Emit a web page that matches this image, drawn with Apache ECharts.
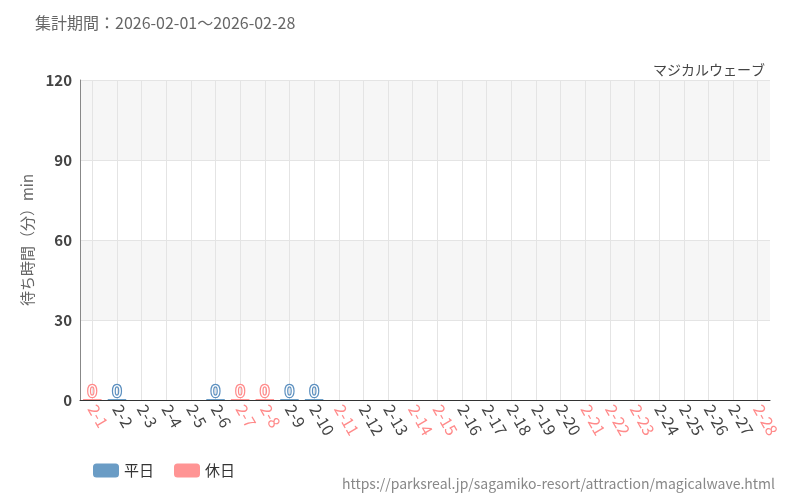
<!DOCTYPE html><html><head><meta charset="utf-8"><script src="https://cdn.jsdelivr.net/npm/echarts@6/dist/echarts.min.js"></script></head><body style="margin:0"><div id="c" style="width:800px;height:500px"></div><script>
const categories=['2-1','2-2','2-3','2-4','2-5','2-6','2-7','2-8','2-9','2-10','2-11','2-12','2-13','2-14','2-15','2-16','2-17','2-18','2-19','2-20','2-21','2-22','2-23','2-24','2-25','2-26','2-27','2-28'];
const holidays=['2-1','2-7','2-8','2-11','2-14','2-15','2-21','2-22','2-23','2-28'];
const weekdayValues=[null,0,null,null,null,0,null,null,0,0,null,null,null,null,null,null,null,null,null,null,null,null,null,null,null,null,null,null];
const holidayValues=[0,null,null,null,null,null,0,0,null,null,null,null,null,null,null,null,null,null,null,null,null,null,null,null,null,null,null,null];
const yTicks=[0,30,60,90,120];
const halfSteps=Array.from({length:categories.length*2+1},(_,i)=>'h'+i);
const F='"Noto Sans CJK JP","Noto Sans",sans-serif';
const lab=c=>({show:true,position:'insideBottom',distance:1,color:'#fff',textBorderColor:c,textBorderWidth:2.5,fontSize:17,fontFamily:F,formatter:p=>p.value});
echarts.init(document.getElementById('c')).setOption({
animation:false,
title:[{text:'集計期間：2026-02-01～2026-02-28',left:30,top:10,textStyle:{fontSize:16,fontWeight:'normal',color:'#666',fontFamily:F}},
{text:'マジカルウェーブ',right:30,top:58,textStyle:{fontSize:14,fontWeight:'normal',color:'#444',fontFamily:F}},
{text:'https://parksreal.jp/sagamiko-resort/attraction/magicalwave.html',right:20,top:472,textStyle:{fontSize:14,fontWeight:'normal',color:'#888',fontFamily:F}}],
legend:{left:88,top:458,itemWidth:26,itemHeight:14,itemGap:20,textStyle:{fontSize:15,color:'#333',fontFamily:F},data:['平日','休日']},
grid:{left:80,right:30,top:80,bottom:100},
xAxis:[{type:'category',data:categories,axisTick:{alignWithLabel:true,length:5,lineStyle:{color:'#333'}},axisLine:{lineStyle:{color:'#333'}},
splitLine:{show:false},
axisLabel:{interval:0,rotate:-60,fontSize:16,fontFamily:F,margin:6,color:v=>holidays.includes(v)?'#ff8a8a':'#444'}},
{type:'category',data:halfSteps,boundaryGap:false,show:true,position:'bottom',axisLine:{show:false},axisTick:{show:false},axisLabel:{show:false},
splitLine:{show:true,interval:(i)=>i%2===1,lineStyle:{color:'#e4e4e4'}}}],
yAxis:{type:'value',min:0,max:120,interval:30,name:'待ち時間（分）min',nameLocation:'middle',nameGap:45,nameTextStyle:{fontSize:15,color:'#666',fontFamily:F},
axisLine:{show:true,lineStyle:{color:'#888'}},axisLabel:{fontSize:15,fontWeight:'bold',color:'#444',fontFamily:F,formatter:v=>yTicks.includes(v)?v:''},
splitLine:{lineStyle:{color:'#e4e4e4'}},splitArea:{show:true,areaStyle:{color:['#fff','#f6f6f6']}}},
series:[{name:'平日',type:'bar',stack:'a',data:weekdayValues,barWidth:'75%',itemStyle:{color:'#6a9cc5'},label:lab('#5b8fbf'),barMinHeight:1},
{name:'休日',type:'bar',stack:'a',data:holidayValues,barWidth:'75%',itemStyle:{color:'#ff9494'},label:lab('#ff8a8a'),barMinHeight:1}]
});
</script></body></html>
